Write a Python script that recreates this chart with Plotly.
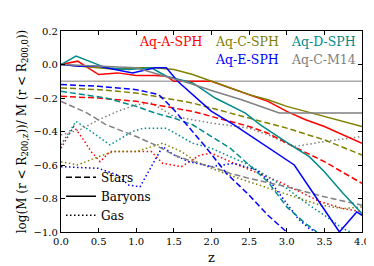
import plotly.graph_objects as go

# ---------------- data ----------------
RED, OLIVE, TEAL, BLUE, GRAY = "#ff0000", "#808000", "#008b8b", "#0000ff", "#808080"

# Baryons (solid)
z_bar_A = [0, 0.22, 0.5, 0.75, 1.0, 1.25, 1.4, 1.5, 1.75, 2.0, 2.25, 2.5, 2.75, 3.0, 3.25, 3.5, 3.75, 4.0]
v_bar_A = [0, 0.02, -0.06, -0.05, -0.065, -0.065, -0.07, -0.1, -0.1, -0.1, -0.14, -0.18, -0.22, -0.28, -0.33, -0.37, -0.42, -0.47]
z_bar_C = [0, 0.25, 0.5, 0.75, 1.0, 1.25, 1.5, 1.75, 2.0, 2.25, 2.5, 2.75, 3.0, 3.25, 3.5, 3.75, 4.0]
v_bar_C = [0, -0.01, -0.02, -0.03, -0.02, -0.02, -0.03, -0.06, -0.1, -0.14, -0.18, -0.21, -0.25, -0.28, -0.31, -0.34, -0.37]
z_bar_D = [0, 0.2, 0.6, 0.9, 1.2, 1.4, 1.75, 2.05, 2.45, 2.65, 3.05, 3.3, 3.5, 3.75, 4.0]
v_bar_D = [0, 0.05, -0.02, -0.03, -0.02, -0.07, -0.11, -0.2, -0.29, -0.36, -0.48, -0.55, -0.64, -0.77, -0.89]
z_bar_E = [0, 0.25, 0.5, 0.75, 0.95, 1.25, 1.4, 1.55, 1.75, 2.0, 2.3, 2.6, 3.1, 3.4, 3.7, 3.93, 4.0]
v_bar_E = [0, -0.01, -0.01, -0.03, -0.05, -0.02, -0.02, -0.1, -0.18, -0.28, -0.36, -0.45, -0.6, -0.8, -1.0, -0.88, -0.9]
z_bar_M = [0, 0.5, 1.0, 1.3, 1.7, 2.0, 2.4, 2.9, 3.5, 4.0]
v_bar_M = [0, -0.01, -0.02, -0.06, -0.11, -0.155, -0.21, -0.29, -0.29, -0.29]

# Stars (dashed)
z_st_A = [0, 0.5, 1.0, 1.4, 1.75, 2.0, 2.5, 2.75, 3.0, 3.5, 4.0]
v_st_A = [-0.19, -0.2, -0.22, -0.25, -0.28, -0.31, -0.37, -0.41, -0.47, -0.58, -0.71]
z_st_C = [0, 0.5, 1.0, 1.4, 1.75, 2.0, 2.5, 2.75, 3.0, 3.5, 4.0]
v_st_C = [-0.14, -0.15, -0.17, -0.2, -0.23, -0.26, -0.32, -0.35, -0.38, -0.45, -0.54]
z_st_D = [0, 0.3, 0.6, 1.0, 1.25, 1.5, 1.75, 2.0, 2.25, 2.5, 2.75, 3.0, 3.25, 3.4]
v_st_D = [-0.16, -0.18, -0.2, -0.25, -0.29, -0.32, -0.36, -0.43, -0.5, -0.6, -0.7, -0.85, -0.95, -1.0]
z_st_E = [0, 0.5, 1.0, 1.3, 1.5, 1.75, 1.9, 2.2, 2.5, 2.75, 3.0]
v_st_E = [-0.12, -0.13, -0.15, -0.18, -0.27, -0.4, -0.48, -0.65, -0.78, -0.9, -1.0]
z_st_M = [0, 0.35, 0.6, 1.0, 1.25, 1.5, 1.75, 2.0, 2.25, 2.5, 3.0, 3.5, 4.0]
v_st_M = [-0.22, -0.29, -0.36, -0.43, -0.48, -0.54, -0.58, -0.61, -0.65, -0.68, -0.73, -0.79, -0.84]

# Gas (dotted)
z_gas_A = [0, 0.17, 0.3, 0.4, 0.52, 0.65, 0.9, 1.2, 1.35, 1.6, 1.85, 2.0, 2.35, 2.9, 3.45, 3.75, 4.0]
v_gas_A = [-0.5, -0.37, -0.45, -0.52, -0.58, -0.52, -0.52, -0.52, -0.59, -0.61, -0.54, -0.53, -0.6, -0.7, -0.82, -0.86, -0.88]
z_gas_C = [0, 0.22, 0.5, 0.7, 1.0, 1.35, 1.6, 1.8, 2.0, 2.3, 2.9, 3.45, 3.75, 4.0]
v_gas_C = [-0.58, -0.6, -0.55, -0.52, -0.52, -0.47, -0.52, -0.58, -0.62, -0.67, -0.76, -0.84, -0.86, -0.85]
z_gas_D = [0, 0.2, 0.4, 0.65, 0.95, 1.1, 1.4, 1.75, 2.0, 2.5, 3.0, 3.3, 3.5, 3.75, 3.85]
v_gas_D = [-0.48, -0.34, -0.4, -0.48, -0.4, -0.38, -0.38, -0.47, -0.5, -0.6, -0.74, -0.84, -0.9, -0.98, -1.0]
z_gas_E = [0, 0.5, 0.75, 0.9, 1.05, 1.35, 1.5, 1.7, 2.0, 2.3, 2.6, 2.8, 2.95, 3.15, 3.3, 3.4]
v_gas_E = [-0.61, -0.62, -0.66, -0.72, -0.73, -0.49, -0.54, -0.58, -0.61, -0.59, -0.63, -0.71, -0.8, -0.92, -0.98, -1.0]
z_gas_M = [0, 0.25, 0.5, 0.75, 1.0, 1.2, 1.5, 2.0, 2.5, 2.75, 3.1, 3.5, 4.0]
v_gas_M = [-0.42, -0.39, -0.33, -0.28, -0.24, -0.23, -0.31, -0.35, -0.38, -0.42, -0.49, -0.46, -0.43]

REF_LEVEL = -0.1
model_names = ["Aq-A-SPH", "Aq-C-SPH", "Aq-D-SPH", "Aq-E-SPH", "Aq-C-M14"]
model_colors = [RED, OLIVE, TEAL, BLUE, GRAY]
legend_names = ["Stars", "Baryons", "Gas"]

x_ticks = [0, 0.5, 1.0, 1.5, 2.0, 2.5, 3.0, 3.5, 4.0]
y_ticks = [-1.0, -0.8, -0.6, -0.4, -0.2, 0.0, 0.2]

# ---------------- figure ----------------
FONT = "DejaVu Serif"
DASH = "6px,3px"
DOT = "1.5px,2.5px"
LW = 1.5

fig = go.Figure()

gas = [(z_gas_A, v_gas_A), (z_gas_C, v_gas_C), (z_gas_D, v_gas_D), (z_gas_E, v_gas_E), (z_gas_M, v_gas_M)]
stars = [(z_st_A, v_st_A), (z_st_C, v_st_C), (z_st_D, v_st_D), (z_st_E, v_st_E), (z_st_M, v_st_M)]
bars = [(z_bar_A, v_bar_A), (z_bar_C, v_bar_C), (z_bar_D, v_bar_D), (z_bar_E, v_bar_E), (z_bar_M, v_bar_M)]

for (zz, vv), c in zip(gas, model_colors):
    fig.add_trace(go.Scatter(x=zz, y=vv, mode="lines", showlegend=False,
                             line=dict(color=c, width=LW, dash=DOT)))
for (zz, vv), c in zip(stars, model_colors):
    fig.add_trace(go.Scatter(x=zz, y=vv, mode="lines", showlegend=False,
                             line=dict(color=c, width=LW, dash=DASH)))
for (zz, vv), c in zip(bars, model_colors):
    fig.add_trace(go.Scatter(x=zz, y=vv, mode="lines", showlegend=False,
                             line=dict(color=c, width=LW)))

# black legend entries
for name, d in zip(legend_names, [DASH, "solid", DOT]):
    fig.add_trace(go.Scatter(x=[None], y=[None], mode="lines", name=name,
                             line=dict(color="black", width=LW, dash=d)))

fig.add_hline(y=REF_LEVEL, line=dict(color="#aaaaaa", width=1.5), layer="below")

# colored model labels
label_pos = [(0.364, 0.95), (0.6175, 0.95), (0.871, 0.95), (0.6175, 0.858), (0.871, 0.858)]
for name, c, (px, py) in zip(model_names, model_colors, label_pos):
    fig.add_annotation(x=px, y=py, xref="paper", yref="paper", text=name,
                       showarrow=False, font=dict(family=FONT, size=12.5, color=c),
                       xanchor="center", yanchor="middle")

axis_common = dict(showgrid=False, zeroline=False, ticks="inside", ticklen=4,
                   tickwidth=1, tickcolor="black", showline=True, linecolor="black",
                   linewidth=1.2, mirror="ticks",
                   tickfont=dict(family=FONT, size=10, color="black"))

fig.update_xaxes(range=[0, 4], tickvals=x_ticks, tickformat=".1f",
                 title=dict(text="z", font=dict(family=FONT, size=13, color="black"), standoff=6),
                 **axis_common)
fig.update_yaxes(range=[-1.0, 0.2], tickvals=y_ticks, tickformat=".1f",
                 title=dict(text="log(M (r < R<sub>200,z</sub>))/ M (r < R<sub>200,0</sub>))",
                            font=dict(family=FONT, size=12, color="black"), standoff=4),
                 **axis_common)

fig.update_layout(
    width=374, height=266,
    margin=dict(l=53, r=14, t=23, b=39),
    paper_bgcolor="white", plot_bgcolor="white",
    showlegend=True,
    legend=dict(x=0.0, y=0.345, xanchor="left", yanchor="top",
                bgcolor="rgba(0,0,0,0)", font=dict(family=FONT, size=12, color="black"),
                itemwidth=30, tracegroupgap=0),
)

fig.write_html("out.html")
